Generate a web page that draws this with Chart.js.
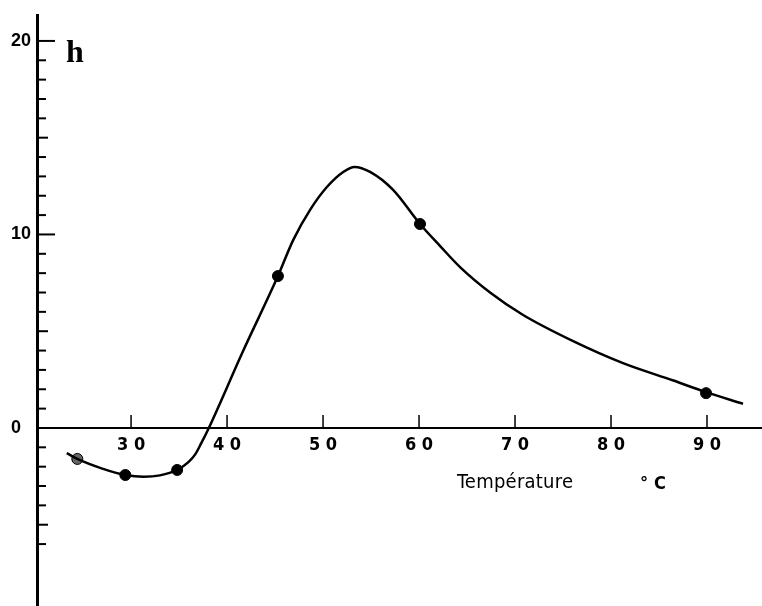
<!DOCTYPE html>
<html>
<head>
<meta charset="utf-8">
<script src="https://cdn.jsdelivr.net/npm/chart.js@4/dist/chart.umd.min.js"></script>
<style>
  html, body { margin: 0; padding: 0; background: #fff; }
  #wrap { width: 762px; height: 606px; }
</style>
</head>
<body>
<div id="wrap"><canvas id="chart"></canvas></div>
<script>
// smooth curve (temperature °C, h)
const curveTemp = [23.3, 24.4, 27, 29.4, 31.3, 33, 34.8, 36, 36.7, 37.3, 38.1, 41.6, 45.3, 46.9, 48.65, 50.4, 52.1, 53.3, 54.9, 57.3, 60.1, 62.2, 64.3, 67.4, 70.8, 76, 81.25, 86.5, 89.9, 93.75];
const curveH = [-1.3, -1.6, -2.1, -2.43, -2.52, -2.45, -2.17, -1.75, -1.35, -0.8, 0, 3.9, 7.85, 9.72, 11.27, 12.45, 13.23, 13.49, 13.23, 12.3, 10.54, 9.4, 8.3, 7.0, 5.85, 4.5, 3.35, 2.45, 1.85, 1.25];

// measured points
const pointTemp = [24.4, 29.4, 34.8, 45.3, 60.1, 89.9];
const pointH = [-1.6, -2.43, -2.17, 7.85, 10.54, 1.8];

const xTicks = [30, 40, 50, 60, 70, 80, 90];
const yTicks = [-6, -5, -4, -3, -2, -1, 0, 1, 2, 3, 4, 5, 6, 7, 8, 9, 10, 11, 12, 13, 14, 15, 16, 17, 18, 19, 20];
const yLabels = [0, 10, 20];

const curveData = curveTemp.map((t, i) => ({ x: t, y: curveH[i] }));
const pointData = pointTemp.map((t, i) => ({ x: t, y: pointH[i] }));

const narrow = '"Liberation Sans Narrow", "DejaVu Sans Condensed", sans-serif';

// spread text so it spans the given width
function spreadText(ctx, text, x, y, width) {
  ctx.letterSpacing = '0px';
  const w = ctx.measureText(text).width;
  ctx.letterSpacing = ((width - w) / (text.length - 1)) + 'px';
  ctx.fillText(text, x, y);
  ctx.letterSpacing = '0px';
}

// tick marks drawn inside the axes, and the free text
const extras = {
  id: 'extras',
  afterDraw(c) {
    const ctx = c.ctx;
    const xs = c.scales.x, ys = c.scales.y;
    const x0 = xs.getPixelForValue(xs.min);
    const y0 = ys.getPixelForValue(0);
    ctx.save();
    ctx.strokeStyle = '#000';
    ctx.lineWidth = 2;
    yTicks.forEach(v => {
      if (v === 0) return;
      const y = ys.getPixelForValue(v);
      const len = v % 10 === 0 ? 18 : (v % 5 === 0 ? 11 : 9);
      ctx.beginPath();
      ctx.moveTo(x0, y);
      ctx.lineTo(x0 + len, y);
      ctx.stroke();
    });
    ctx.lineWidth = 1.5;
    xTicks.forEach(v => {
      const x = xs.getPixelForValue(v);
      ctx.beginPath();
      ctx.moveTo(x, y0);
      ctx.lineTo(x, y0 - 13);
      ctx.stroke();
    });

    ctx.fillStyle = '#000';
    ctx.font = 'bold 32px "Liberation Serif", "DejaVu Serif", serif';
    ctx.textBaseline = 'alphabetic';
    ctx.fillText('h', 66, 62);

    ctx.font = '20px ' + narrow;
    spreadText(ctx, 'Température', 457, 488, 116);
    ctx.font = 'bold 18px ' + narrow;
    spreadText(ctx, '°C', 640, 489, 26);
    ctx.restore();
  }
};

new Chart(document.getElementById('chart'), {
  type: 'scatter',
  data: {
    datasets: [
      {
        type: 'line',
        data: curveData,
        borderColor: '#000',
        borderWidth: 2.5,
        pointRadius: 0,
        cubicInterpolationMode: 'monotone',
        fill: false
      },
      {
        data: pointData,
        backgroundColor: ['#666', '#000', '#000', '#000', '#000', '#000'],
        borderColor: '#000',
        borderWidth: 1,
        pointRadius: 5.5
      }
    ]
  },
  options: {
    responsive: true,
    maintainAspectRatio: false,
    animation: false,
    layout: { autoPadding: false, padding: { left: 11, top: 15, right: 0, bottom: 0 } },
    plugins: { legend: { display: false }, tooltip: { enabled: false } },
    scales: {
      x: {
        type: 'linear',
        position: { y: 0 },
        min: 20.2,
        max: 95.73,
        afterBuildTicks: s => { s.ticks = xTicks.map(v => ({ value: v })); },
        afterFit: s => { s.height = 0; s.paddingLeft = 0; s.paddingRight = 0; s.paddingTop = 0; s.paddingBottom = 0; },
        grid: { drawOnChartArea: false, drawTicks: false },
        border: { display: true, color: '#000', width: 2 },
        ticks: {
          padding: 7,
          color: '#000',
          font: { family: narrow, size: 18, weight: 'bold' },
          callback: v => String(v).split('').join(' ')
        }
      },
      y: {
        type: 'linear',
        min: -9.2,
        max: 21.34,
        afterBuildTicks: s => { s.ticks = yLabels.map(v => ({ value: v })); },
        afterFit: s => { s.width = 26; s.paddingTop = 0; s.paddingBottom = 0; },
        grid: { drawOnChartArea: false, drawTicks: false },
        border: { display: true, color: '#000', width: 3 },
        ticks: {
          padding: 4,
          crossAlign: 'far',
          color: '#000',
          font: { family: '"Liberation Sans", Arial, sans-serif', size: 18, weight: 'bold' }
        }
      }
    }
  },
  plugins: [extras]
});
</script>
</body>
</html>
